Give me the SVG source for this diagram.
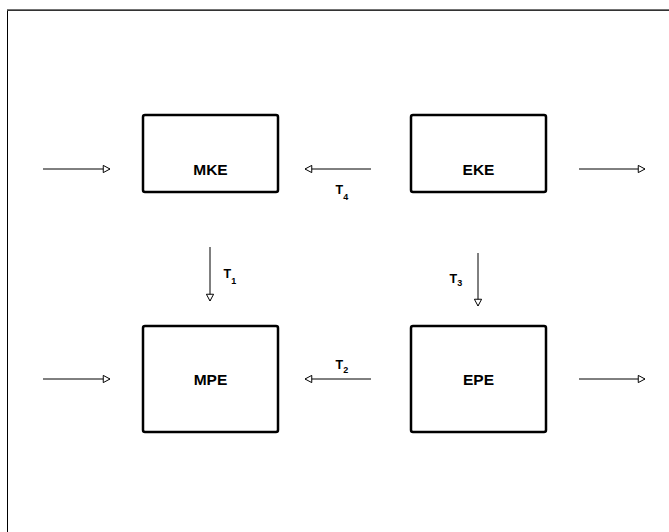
<svg xmlns="http://www.w3.org/2000/svg" width="669" height="532" viewBox="0 0 669 532">
<defs>
<marker id="ah" viewBox="0 0 10 10" refX="9" refY="5" markerWidth="9" markerHeight="9" markerUnits="userSpaceOnUse" orient="auto">
<path d="M1.5,1 L9,5 L1.5,9 Z" fill="#fff" stroke="#000" stroke-width="1.1"/>
</marker>
<style>
.box{fill:#fff;stroke:#000;stroke-width:2.5}
.lbl{font-family:"Liberation Sans",Arial,sans-serif;font-weight:bold;font-size:15.5px;text-anchor:middle;fill:#000}
.t{font-family:"Liberation Sans",Arial,sans-serif;font-weight:bold;font-size:12.5px;fill:#000}
.s{font-size:9px}
.c{stroke:#000;stroke-width:1;fill:none;marker-end:url(#ah)}
</style>
</defs>
<rect width="669" height="532" fill="#fff"/>
<path d="M7.5,532 V10.5 H669" fill="none" stroke="#000" stroke-width="1"/>
<line x1="7" y1="10" x2="669" y2="10" stroke="#444" stroke-width="1.5"/>
<g id="MKE"><rect class="box" x="143" y="115" width="135" height="77" rx="2"/><text class="lbl" x="210.5" y="174.5">MKE</text></g>
<g id="EKE"><rect class="box" x="411" y="115" width="135" height="77" rx="2"/><text class="lbl" x="478.5" y="174.5">EKE</text></g>
<g id="MPE"><rect class="box" x="143" y="326" width="135" height="106" rx="2"/><text class="lbl" x="210.5" y="385">MPE</text></g>
<g id="EPE"><rect class="box" x="411" y="326" width="135" height="106" rx="2"/><text class="lbl" x="478.5" y="385">EPE</text></g>
<g id="connectors">
<line class="c" x1="43" y1="169" x2="110" y2="169"/>
<line class="c" x1="371" y1="169" x2="305" y2="169"/>
<line class="c" x1="579" y1="169" x2="645" y2="169"/>
<line class="c" x1="210" y1="247" x2="210" y2="301"/>
<line class="c" x1="478" y1="253" x2="478" y2="306"/>
<line class="c" x1="43" y1="379" x2="110" y2="379"/>
<line class="c" x1="371" y1="379" x2="305" y2="379"/>
<line class="c" x1="579" y1="379" x2="645" y2="379"/>
<text class="t" x="335.5" y="194">T<tspan class="s" dy="6">4</tspan></text>
<text class="t" x="223.5" y="278">T<tspan class="s" dy="6">1</tspan></text>
<text class="t" x="449.5" y="283">T<tspan class="s" dy="2.5">3</tspan></text>
<text class="t" x="335.5" y="369">T<tspan class="s" dy="4">2</tspan></text>
</g>
</svg>
